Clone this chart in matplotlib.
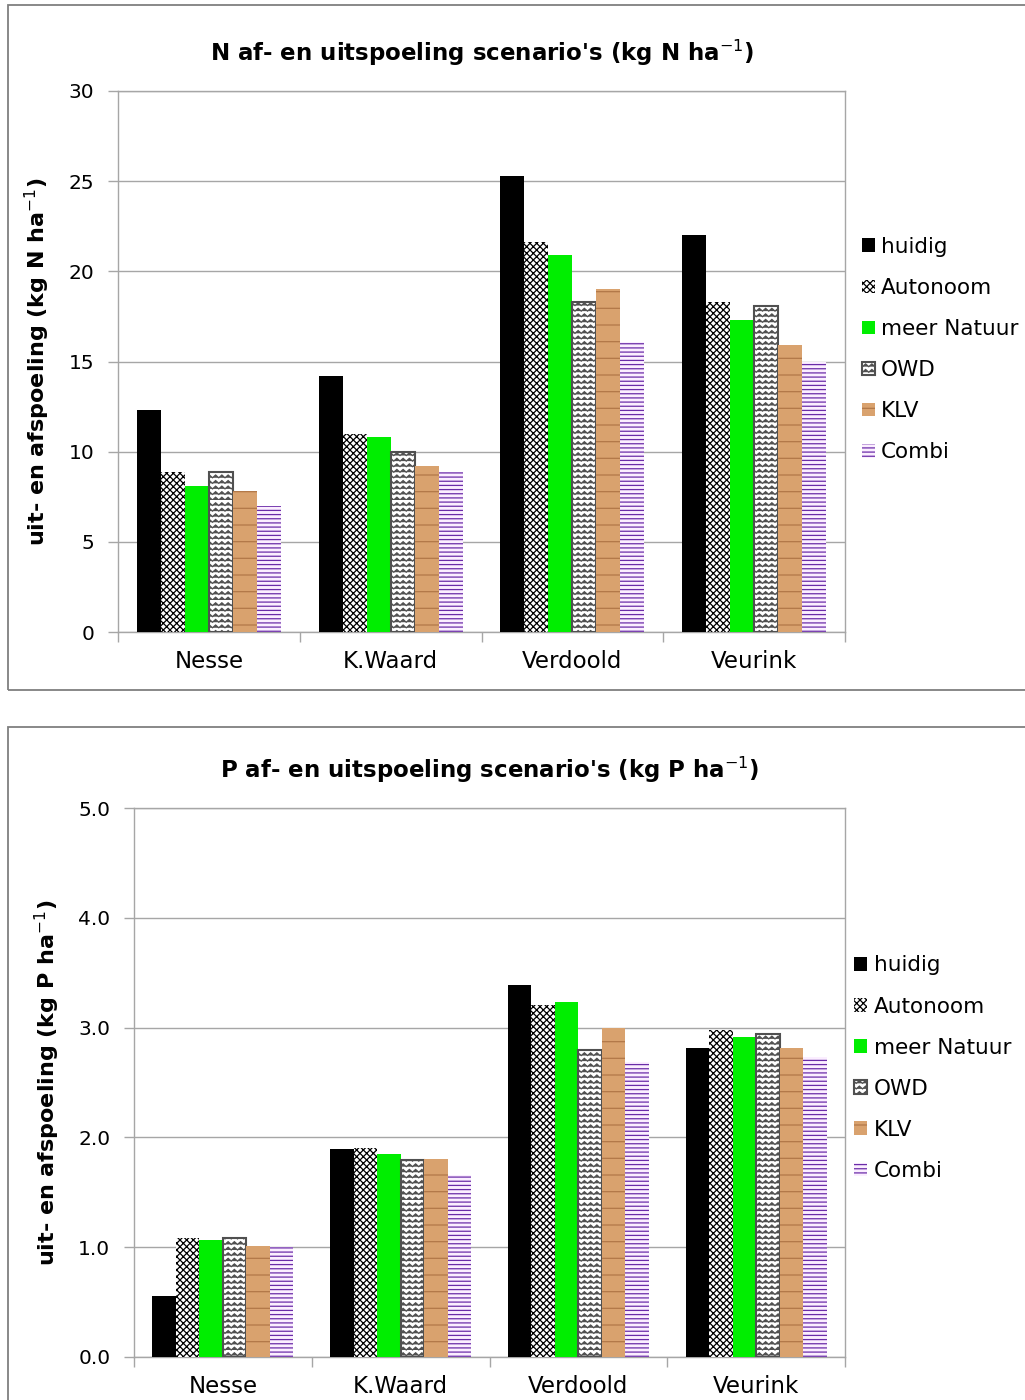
import warnings
import numpy as np
import matplotlib
matplotlib.use("Agg")
import matplotlib.pyplot as plt
from matplotlib import hatch as mhatch
from matplotlib.path import Path
from matplotlib.patches import Rectangle

warnings.filterwarnings("ignore")

# ---- data -------------------------------------------------------------
locations = ["Nesse", "K.Waard", "Verdoold", "Veurink"]
scenarios = ["huidig", "Autonoom", "meer Natuur", "OWD", "KLV", "Combi"]

n_huidig = [12.3, 14.2, 25.3, 22.0]
n_autonoom = [8.9, 11.0, 21.6, 18.3]
n_meer_natuur = [8.1, 10.8, 20.9, 17.3]
n_owd = [8.9, 10.0, 18.3, 18.1]
n_klv = [7.8, 9.2, 19.0, 15.9]
n_combi = [7.0, 8.9, 16.1, 15.0]

p_huidig = [0.56, 1.89, 3.39, 2.81]
p_autonoom = [1.08, 1.90, 3.21, 2.98]
p_meer_natuur = [1.07, 1.85, 3.23, 2.91]
p_owd = [1.08, 1.79, 2.80, 2.94]
p_klv = [1.01, 1.80, 3.00, 2.81]
p_combi = [1.00, 1.66, 2.69, 2.73]

n_ticks = [0, 5, 10, 15, 20, 25, 30]
p_ticks = [0.0, 1.0, 2.0, 3.0, 4.0, 5.0]


# ---- a zig-zag hatch ('z') for the OWD scenario -------------------------
class ZigZagHatch(mhatch.HatchPatternBase):
    def __init__(self, hatch, density):
        self.num_lines = int(hatch.count('z') * density)
        self.n_pts = 2 * 16 + 1
        self.num_vertices = self.num_lines * self.n_pts

    def set_vertices_and_codes(self, vertices, codes):
        if not self.num_lines:
            return
        xs = np.linspace(0.0, 1.0, self.n_pts)
        amp = 0.5 / self.num_lines
        offs = np.where(np.arange(self.n_pts) % 2 == 0, 0.0, amp)
        k = 0
        for y in np.linspace(0.0, 1.0, self.num_lines, endpoint=False):
            vertices[k:k + self.n_pts, 0] = xs
            vertices[k:k + self.n_pts, 1] = y + offs
            codes[k] = Path.MOVETO
            codes[k + 1:k + self.n_pts] = Path.LINETO
            k += self.n_pts


mhatch._hatch_types.append(ZigZagHatch)

plt.rcParams["font.family"] = ["DejaVu Sans"]
plt.rcParams["hatch.linewidth"] = 0.9

styles = [
    dict(color="black", edgecolor="black", linewidth=0),
    dict(facecolor="white", edgecolor="#000000", hatch="xxxxx", linewidth=0),
    dict(color="#00EE00", edgecolor="#00EE00", linewidth=0),
    dict(facecolor="white", edgecolor="#505050", hatch="zzz", linewidth=1.5),
    dict(facecolor="#D9A26E", edgecolor="#B27848", hatch="-", linewidth=0),
    dict(facecolor="#FBEEFF", edgecolor="#6A2CA8", hatch="----", linewidth=0),
]

GRID = "#A6A6A6"


def draw_panel(ax, series, ticks, fmt, title, ylabel, legend_xy):
    x = np.arange(len(locations))
    w = 0.132
    for j, (name, vals) in enumerate(zip(scenarios, series)):
        ax.bar(x + (j - 2.5) * w, vals, width=w, label=name, zorder=3,
               **styles[j])
    ax.set_xlim(-0.5, len(locations) - 0.5)
    ax.set_ylim(ticks[0], ticks[-1])
    ax.set_yticks(ticks)
    ax.set_yticklabels([fmt.format(t) for t in ticks], fontsize=14.5)
    ax.set_xticks(x)
    ax.set_xticklabels(locations, fontsize=16.5)
    ax.set_xticks(np.arange(-0.5, len(locations)), minor=True)
    ax.tick_params(axis="x", which="major", length=0, pad=13)
    ax.tick_params(axis="x", which="minor", length=7, color=GRID, width=1)
    ax.tick_params(axis="y", length=7, color=GRID, width=1, pad=10)
    ax.yaxis.grid(True, color=GRID, linewidth=1, zorder=0)
    ax.set_axisbelow(True)
    for s in ax.spines.values():
        s.set_color(GRID)
        s.set_linewidth(1)
    ax.set_title(title, fontsize=16.5, fontweight="bold", pad=22)
    ax.set_ylabel(ylabel, fontsize=16, fontweight="bold", labelpad=12)
    ax.legend(loc="center left", bbox_to_anchor=legend_xy, frameon=False,
              fontsize=15.5, handlelength=0.6, handleheight=0.6,
              handletextpad=0.3, labelspacing=0.98, borderaxespad=0)


fig = plt.figure(figsize=(10.25, 14), dpi=100)

# panel frames
for (y0, y1) in [(5, 690), (727, 1410)]:
    fig.add_artist(Rectangle((8 / 1025, 1 - y1 / 1400), 1.2, (y1 - y0) / 1400,
                             transform=fig.transFigure, facecolor="none",
                             edgecolor="#7F7F7F", linewidth=1.3))

ax1 = fig.add_axes([118 / 1025, 1 - 632 / 1400, 727 / 1025, 541 / 1400])
draw_panel(ax1, [n_huidig, n_autonoom, n_meer_natuur, n_owd, n_klv, n_combi],
           n_ticks, "{:d}",
           "N af- en uitspoeling scenario's (kg N ha$^{-1}$)",
           "uit- en afspoeling (kg N ha$^{-1}$)", (1.011, 0.522))

ax2 = fig.add_axes([134 / 1025, 1 - 1357 / 1400, 711 / 1025, 549 / 1400])
draw_panel(ax2, [p_huidig, p_autonoom, p_meer_natuur, p_owd, p_klv, p_combi],
           p_ticks, "{:.1f}",
           "P af- en uitspoeling scenario's (kg P ha$^{-1}$)",
           "uit- en afspoeling (kg P ha$^{-1}$)", (1.001, 0.526))

fig.savefig("out.png", dpi=100)
